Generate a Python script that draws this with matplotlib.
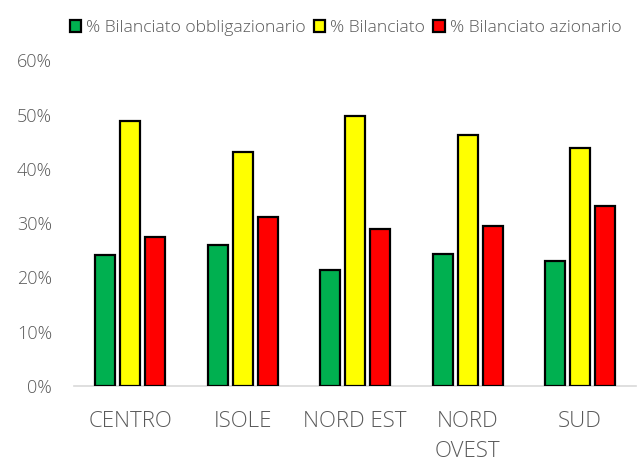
import matplotlib
matplotlib.use("Agg")
import matplotlib.pyplot as plt
import numpy as np

categories = ["CENTRO", "ISOLE", "NORD EST", "NORD\nOVEST", "SUD"]
series_names = ["% Bilanciato obbligazionario", "% Bilanciato", "% Bilanciato azionario"]
obbligazionario = [24.2, 26.0, 21.3, 24.4, 23.1]
bilanciato = [48.8, 43.2, 49.8, 46.3, 43.9]
azionario = [27.4, 31.1, 29.0, 29.5, 33.1]
colors = ["#00B050", "#FFFF00", "#FF0000"]

plt.rcParams['font.family'] = ['Open Sans', 'DejaVu Sans']
plt.rcParams['font.weight'] = 'light'

fig = plt.figure(figsize=(6.4, 4.61), dpi=100)
ax = fig.add_axes([0.116, 0.163, 0.878, 0.706])

x = np.arange(len(categories))
w = 0.178
off = 0.222
for i, (vals, c, name) in enumerate(zip([obbligazionario, bilanciato, azionario], colors, series_names)):
    ax.bar(x + (i - 1) * off, np.array(vals) / 100, width=w, color=c,
           edgecolor="black", linewidth=1.6, label=name, zorder=3)

ax.set_xlim(-0.5, len(categories) - 0.5)
ax.set_ylim(0, 0.6)
ax.set_yticks(np.arange(0, 0.61, 0.1))
ax.set_yticklabels([f"{int(round(v*100))}%" for v in np.arange(0, 0.61, 0.1)])
ax.set_xticks(x)
ax.set_xticklabels(categories, linespacing=1.6)
ax.tick_params(axis='y', length=0, labelsize=13, colors="#595959", pad=16)
ax.tick_params(axis='x', length=0, labelsize=16, colors="#595959", pad=18)
for s in ["top", "right", "left"]:
    ax.spines[s].set_visible(False)
ax.spines["bottom"].set_color("#D9D9D9")
ax.spines["bottom"].set_linewidth(1.2)

leg = fig.legend(loc="upper center", bbox_to_anchor=(0.54, 0.99), ncol=3, frameon=False,
                 fontsize=12.6, handlelength=0.65, handleheight=0.65, handletextpad=0.3,
                 columnspacing=0.45, labelcolor="#595959")

fig.savefig("out.png", dpi=100)
